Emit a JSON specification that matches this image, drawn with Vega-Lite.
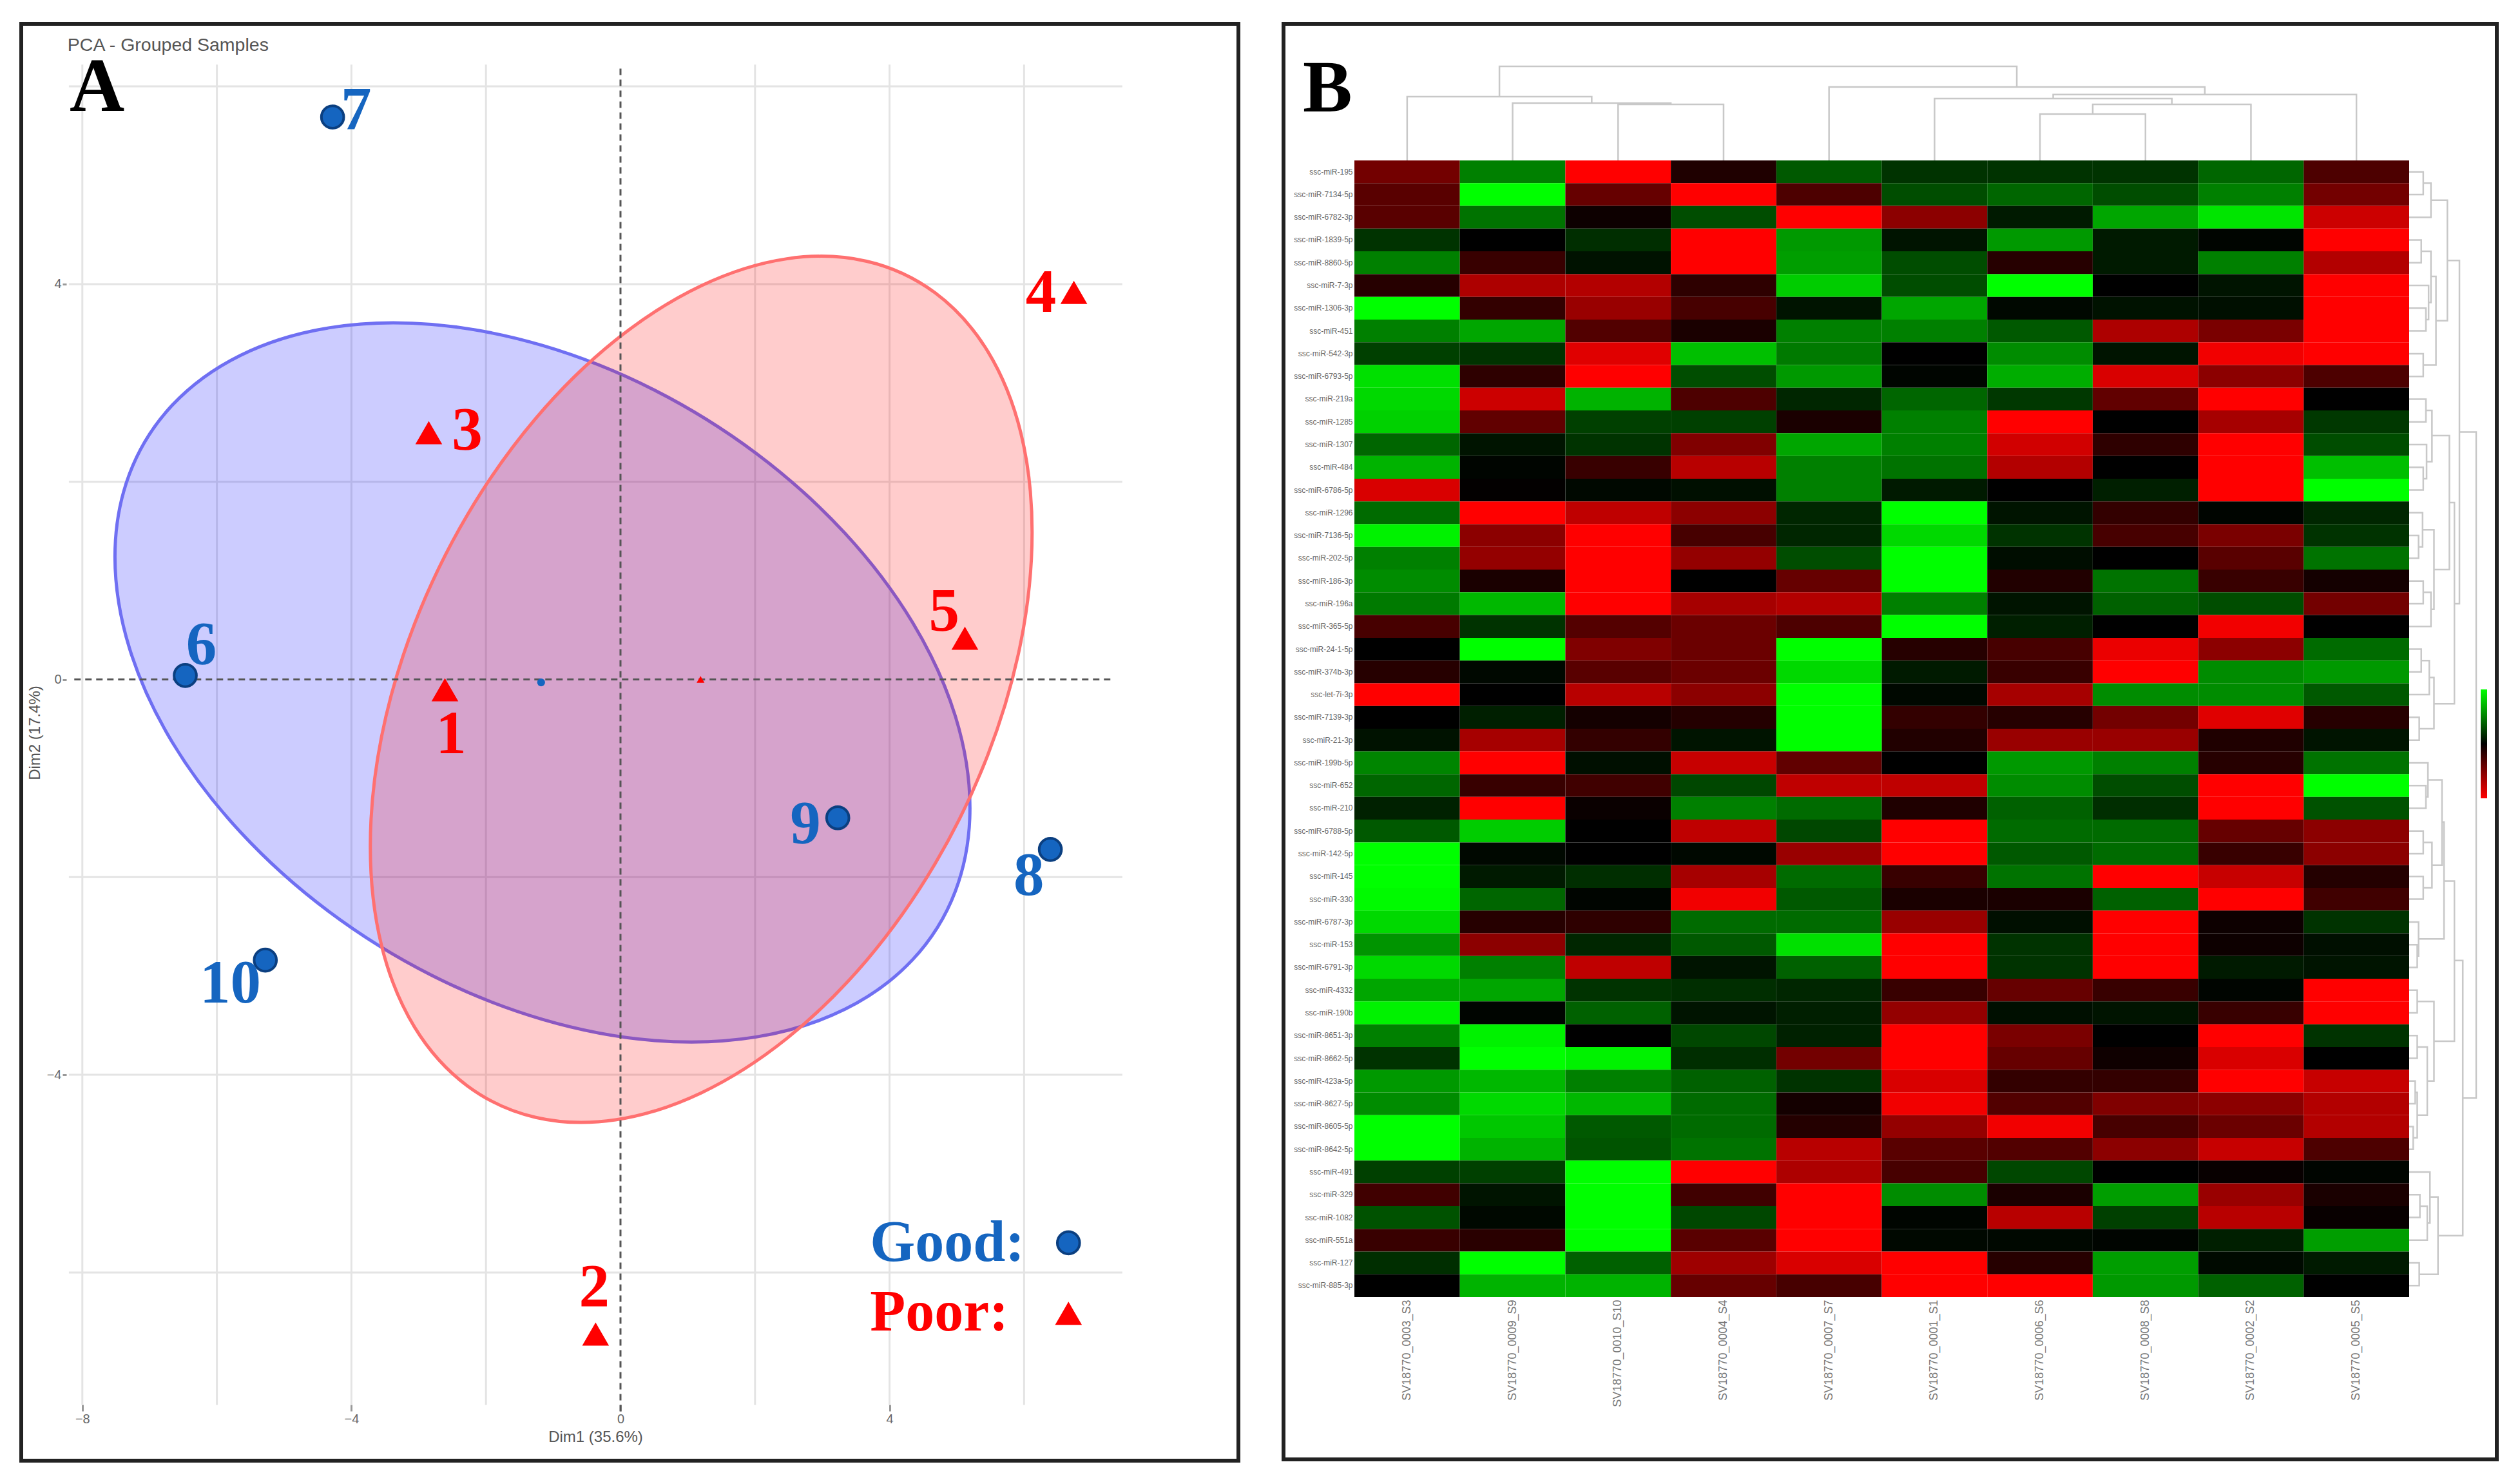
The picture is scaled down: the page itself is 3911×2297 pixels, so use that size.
{"$schema":"https://vega.github.io/schema/vega-lite/v6.json","background":"#ffffff","padding":{"left":30,"top":34,"right":0,"bottom":0},"spacing":64,"config":{"view":{"stroke":"#222222","strokeWidth":6},"font":"Liberation Sans"},
"datasets":{
"gridV":[{"x":-8,"y":6.22,"y2":-7.34},{"x":-6,"y":6.22,"y2":-7.34},{"x":-4,"y":6.22,"y2":-7.34},{"x":-2,"y":6.22,"y2":-7.34},{"x":2,"y":6.22,"y2":-7.34},{"x":4,"y":6.22,"y2":-7.34},{"x":6,"y":6.22,"y2":-7.34}],
"gridH":[{"y":-6,"x":-8.2,"x2":7.46},{"y":-4,"x":-8.2,"x2":7.46},{"y":-2,"x":-8.2,"x2":7.46},{"y":2,"x":-8.2,"x2":7.46},{"y":4,"x":-8.2,"x2":7.46},{"y":6,"x":-8.2,"x2":7.46}],
"ellipseGood":[{"i":0,"x":5.195,"y":-1.3},{"i":1,"x":4.979,"y":-2.14},{"i":2,"x":4.343,"y":-2.835},{"i":3,"x":3.333,"y":-3.338},{"i":4,"x":2.018,"y":-3.617},{"i":5,"x":0.486,"y":-3.652},{"i":6,"x":-1.16,"y":-3.439},{"i":7,"x":-2.806,"y":-2.994},{"i":8,"x":-4.338,"y":-2.347},{"i":9,"x":-5.653,"y":-1.542},{"i":10,"x":-6.663,"y":-0.635},{"i":11,"x":-7.299,"y":0.314},{"i":12,"x":-7.515,"y":1.24},{"i":13,"x":-7.299,"y":2.08},{"i":14,"x":-6.663,"y":2.775},{"i":15,"x":-5.653,"y":3.278},{"i":16,"x":-4.338,"y":3.557},{"i":17,"x":-2.806,"y":3.592},{"i":18,"x":-1.16,"y":3.379},{"i":19,"x":0.486,"y":2.934},{"i":20,"x":2.018,"y":2.287},{"i":21,"x":3.333,"y":1.482},{"i":22,"x":4.343,"y":0.575},{"i":23,"x":4.979,"y":-0.374}],
"ellipsePoor":[{"i":0,"x":6.119,"y":1.49},{"i":1,"x":5.952,"y":0.379},{"i":2,"x":5.46,"y":-0.765},{"i":3,"x":4.678,"y":-1.863},{"i":4,"x":3.66,"y":-2.841},{"i":5,"x":2.474,"y":-3.632},{"i":6,"x":1.2,"y":-4.183},{"i":7,"x":-0.074,"y":-4.456},{"i":8,"x":-1.26,"y":-4.431},{"i":9,"x":-2.278,"y":-4.111},{"i":10,"x":-3.06,"y":-3.519},{"i":11,"x":-3.552,"y":-2.693},{"i":12,"x":-3.719,"y":-1.69},{"i":13,"x":-3.552,"y":-0.579},{"i":14,"x":-3.06,"y":0.565},{"i":15,"x":-2.278,"y":1.663},{"i":16,"x":-1.26,"y":2.641},{"i":17,"x":-0.074,"y":3.432},{"i":18,"x":1.2,"y":3.983},{"i":19,"x":2.474,"y":4.256},{"i":20,"x":3.66,"y":4.231},{"i":21,"x":4.678,"y":3.911},{"i":22,"x":5.46,"y":3.319},{"i":23,"x":5.952,"y":2.493}],
"samples":[{"group":"Good","x":-4.28,"y":5.69},{"group":"Good","x":-6.47,"y":0.04},{"group":"Good","x":3.23,"y":-1.4},{"group":"Good","x":6.39,"y":-1.72},{"group":"Good","x":-5.28,"y":-2.84},{"group":"Poor","x":-2.61,"y":-0.11},{"group":"Poor","x":-0.37,"y":-6.63},{"group":"Poor","x":-2.85,"y":2.49},{"group":"Poor","x":6.74,"y":3.91},{"group":"Poor","x":5.12,"y":0.41},{"group":"Good","x":6.66,"y":-5.7},{"group":"Poor","x":6.66,"y":-6.42}],
"centroids":[{"group":"Good","x":-1.18,"y":-0.03},{"group":"Poor","x":1.19,"y":0}],
"numbers":[{"t":"7","group":"Good","x":-3.93,"y":5.75},{"t":"6","group":"Good","x":-6.23,"y":0.34},{"t":"9","group":"Good","x":2.75,"y":-1.47},{"t":"8","group":"Good","x":6.07,"y":-1.99},{"t":"10","group":"Good","x":-5.8,"y":-3.08},{"t":"1","group":"Poor","x":-2.52,"y":-0.56},{"t":"2","group":"Poor","x":-0.39,"y":-6.16},{"t":"3","group":"Poor","x":-2.28,"y":2.51},{"t":"4","group":"Poor","x":6.25,"y":3.91},{"t":"5","group":"Poor","x":4.81,"y":0.68}],
"keys":[{"t":"Good:","group":"Good","x":3.71,"y":-5.88},{"t":"Poor:","group":"Poor","x":3.71,"y":-6.59}],
"miRs":[{"r":1,"miR":"ssc-miR-195"},{"r":2,"miR":"ssc-miR-7134-5p"},{"r":3,"miR":"ssc-miR-6782-3p"},{"r":4,"miR":"ssc-miR-1839-5p"},{"r":5,"miR":"ssc-miR-8860-5p"},{"r":6,"miR":"ssc-miR-7-3p"},{"r":7,"miR":"ssc-miR-1306-3p"},{"r":8,"miR":"ssc-miR-451"},{"r":9,"miR":"ssc-miR-542-3p"},{"r":10,"miR":"ssc-miR-6793-5p"},{"r":11,"miR":"ssc-miR-219a"},{"r":12,"miR":"ssc-miR-1285"},{"r":13,"miR":"ssc-miR-1307"},{"r":14,"miR":"ssc-miR-484"},{"r":15,"miR":"ssc-miR-6786-5p"},{"r":16,"miR":"ssc-miR-1296"},{"r":17,"miR":"ssc-miR-7136-5p"},{"r":18,"miR":"ssc-miR-202-5p"},{"r":19,"miR":"ssc-miR-186-3p"},{"r":20,"miR":"ssc-miR-196a"},{"r":21,"miR":"ssc-miR-365-5p"},{"r":22,"miR":"ssc-miR-24-1-5p"},{"r":23,"miR":"ssc-miR-374b-3p"},{"r":24,"miR":"ssc-let-7i-3p"},{"r":25,"miR":"ssc-miR-7139-3p"},{"r":26,"miR":"ssc-miR-21-3p"},{"r":27,"miR":"ssc-miR-199b-5p"},{"r":28,"miR":"ssc-miR-652"},{"r":29,"miR":"ssc-miR-210"},{"r":30,"miR":"ssc-miR-6788-5p"},{"r":31,"miR":"ssc-miR-142-5p"},{"r":32,"miR":"ssc-miR-145"},{"r":33,"miR":"ssc-miR-330"},{"r":34,"miR":"ssc-miR-6787-3p"},{"r":35,"miR":"ssc-miR-153"},{"r":36,"miR":"ssc-miR-6791-3p"},{"r":37,"miR":"ssc-miR-4332"},{"r":38,"miR":"ssc-miR-190b"},{"r":39,"miR":"ssc-miR-8651-3p"},{"r":40,"miR":"ssc-miR-8662-5p"},{"r":41,"miR":"ssc-miR-423a-5p"},{"r":42,"miR":"ssc-miR-8627-5p"},{"r":43,"miR":"ssc-miR-8605-5p"},{"r":44,"miR":"ssc-miR-8642-5p"},{"r":45,"miR":"ssc-miR-491"},{"r":46,"miR":"ssc-miR-329"},{"r":47,"miR":"ssc-miR-1082"},{"r":48,"miR":"ssc-miR-551a"},{"r":49,"miR":"ssc-miR-127"},{"r":50,"miR":"ssc-miR-885-3p"}],
"sampleNames":[{"c":1,"sample":"SV18770_0003_S3"},{"c":2,"sample":"SV18770_0009_S9"},{"c":3,"sample":"SV18770_0010_S10"},{"c":4,"sample":"SV18770_0004_S4"},{"c":5,"sample":"SV18770_0007_S7"},{"c":6,"sample":"SV18770_0001_S1"},{"c":7,"sample":"SV18770_0006_S6"},{"c":8,"sample":"SV18770_0008_S8"},{"c":9,"sample":"SV18770_0002_S2"},{"c":10,"sample":"SV18770_0005_S5"}],
"cells":[
{"r":1,"c":1,"v":-0.45},{"r":1,"c":2,"v":0.5},{"r":1,"c":3,"v":-1},{"r":1,"c":4,"v":-0.12},{"r":1,"c":5,"v":0.35},{"r":1,"c":6,"v":0.2},{"r":1,"c":7,"v":0.2},{"r":1,"c":8,"v":0.2},{"r":1,"c":9,"v":0.4},{"r":1,"c":10,"v":-0.3},
{"r":2,"c":1,"v":-0.35},{"r":2,"c":2,"v":1},{"r":2,"c":3,"v":-0.4},{"r":2,"c":4,"v":-1},{"r":2,"c":5,"v":-0.3},{"r":2,"c":6,"v":0.3},{"r":2,"c":7,"v":0.4},{"r":2,"c":8,"v":0.3},{"r":2,"c":9,"v":0.5},{"r":2,"c":10,"v":-0.45},
{"r":3,"c":1,"v":-0.35},{"r":3,"c":2,"v":0.45},{"r":3,"c":3,"v":-0.05},{"r":3,"c":4,"v":0.3},{"r":3,"c":5,"v":-1},{"r":3,"c":6,"v":-0.55},{"r":3,"c":7,"v":0.1},{"r":3,"c":8,"v":0.65},{"r":3,"c":9,"v":0.9},{"r":3,"c":10,"v":-0.8},
{"r":4,"c":1,"v":0.2},{"r":4,"c":2,"v":0},{"r":4,"c":3,"v":0.18},{"r":4,"c":4,"v":-1},{"r":4,"c":5,"v":0.6},{"r":4,"c":6,"v":0.08},{"r":4,"c":7,"v":0.6},{"r":4,"c":8,"v":0.1},{"r":4,"c":9,"v":0.02},{"r":4,"c":10,"v":-1},
{"r":5,"c":1,"v":0.5},{"r":5,"c":2,"v":-0.22},{"r":5,"c":3,"v":0.07},{"r":5,"c":4,"v":-1},{"r":5,"c":5,"v":0.62},{"r":5,"c":6,"v":0.3},{"r":5,"c":7,"v":-0.15},{"r":5,"c":8,"v":0.1},{"r":5,"c":9,"v":0.5},{"r":5,"c":10,"v":-0.7},
{"r":6,"c":1,"v":-0.15},{"r":6,"c":2,"v":-0.68},{"r":6,"c":3,"v":-0.7},{"r":6,"c":4,"v":-0.18},{"r":6,"c":5,"v":0.8},{"r":6,"c":6,"v":0.3},{"r":6,"c":7,"v":1},{"r":6,"c":8,"v":0},{"r":6,"c":9,"v":0.08},{"r":6,"c":10,"v":-1},
{"r":7,"c":1,"v":1},{"r":7,"c":2,"v":-0.2},{"r":7,"c":3,"v":-0.6},{"r":7,"c":4,"v":-0.28},{"r":7,"c":5,"v":0.08},{"r":7,"c":6,"v":0.65},{"r":7,"c":7,"v":0.03},{"r":7,"c":8,"v":0.07},{"r":7,"c":9,"v":0.06},{"r":7,"c":10,"v":-1},
{"r":8,"c":1,"v":0.5},{"r":8,"c":2,"v":0.65},{"r":8,"c":3,"v":-0.32},{"r":8,"c":4,"v":-0.1},{"r":8,"c":5,"v":0.5},{"r":8,"c":6,"v":0.5},{"r":8,"c":7,"v":0.35},{"r":8,"c":8,"v":-0.68},{"r":8,"c":9,"v":-0.48},{"r":8,"c":10,"v":-1},
{"r":9,"c":1,"v":0.25},{"r":9,"c":2,"v":0.2},{"r":9,"c":3,"v":-0.88},{"r":9,"c":4,"v":0.75},{"r":9,"c":5,"v":0.48},{"r":9,"c":6,"v":0},{"r":9,"c":7,"v":0.55},{"r":9,"c":8,"v":0.08},{"r":9,"c":9,"v":-0.95},{"r":9,"c":10,"v":-1},
{"r":10,"c":1,"v":0.88},{"r":10,"c":2,"v":-0.18},{"r":10,"c":3,"v":-1},{"r":10,"c":4,"v":0.3},{"r":10,"c":5,"v":0.6},{"r":10,"c":6,"v":0.02},{"r":10,"c":7,"v":0.68},{"r":10,"c":8,"v":-0.85},{"r":10,"c":9,"v":-0.55},{"r":10,"c":10,"v":-0.3},
{"r":11,"c":1,"v":0.85},{"r":11,"c":2,"v":-0.8},{"r":11,"c":3,"v":0.7},{"r":11,"c":4,"v":-0.3},{"r":11,"c":5,"v":0.15},{"r":11,"c":6,"v":0.4},{"r":11,"c":7,"v":0.22},{"r":11,"c":8,"v":-0.38},{"r":11,"c":9,"v":-1},{"r":11,"c":10,"v":0},
{"r":12,"c":1,"v":0.82},{"r":12,"c":2,"v":-0.38},{"r":12,"c":3,"v":0.25},{"r":12,"c":4,"v":0.25},{"r":12,"c":5,"v":-0.1},{"r":12,"c":6,"v":0.5},{"r":12,"c":7,"v":-1},{"r":12,"c":8,"v":0},{"r":12,"c":9,"v":-0.65},{"r":12,"c":10,"v":0.22},
{"r":13,"c":1,"v":0.4},{"r":13,"c":2,"v":0.08},{"r":13,"c":3,"v":0.2},{"r":13,"c":4,"v":-0.5},{"r":13,"c":5,"v":0.65},{"r":13,"c":6,"v":0.5},{"r":13,"c":7,"v":-0.82},{"r":13,"c":8,"v":-0.18},{"r":13,"c":9,"v":-1},{"r":13,"c":10,"v":0.3},
{"r":14,"c":1,"v":0.7},{"r":14,"c":2,"v":0.02},{"r":14,"c":3,"v":-0.22},{"r":14,"c":4,"v":-0.72},{"r":14,"c":5,"v":0.5},{"r":14,"c":6,"v":0.45},{"r":14,"c":7,"v":-0.7},{"r":14,"c":8,"v":0},{"r":14,"c":9,"v":-1},{"r":14,"c":10,"v":0.75},
{"r":15,"c":1,"v":-0.85},{"r":15,"c":2,"v":-0.01},{"r":15,"c":3,"v":0.03},{"r":15,"c":4,"v":0.06},{"r":15,"c":5,"v":0.5},{"r":15,"c":6,"v":0.1},{"r":15,"c":7,"v":0},{"r":15,"c":8,"v":0.12},{"r":15,"c":9,"v":-1},{"r":15,"c":10,"v":1},
{"r":16,"c":1,"v":0.42},{"r":16,"c":2,"v":-1},{"r":16,"c":3,"v":-0.75},{"r":16,"c":4,"v":-0.55},{"r":16,"c":5,"v":0.15},{"r":16,"c":6,"v":1},{"r":16,"c":7,"v":0.08},{"r":16,"c":8,"v":-0.2},{"r":16,"c":9,"v":0.02},{"r":16,"c":10,"v":0.15},
{"r":17,"c":1,"v":0.95},{"r":17,"c":2,"v":-0.55},{"r":17,"c":3,"v":-1},{"r":17,"c":4,"v":-0.28},{"r":17,"c":5,"v":0.15},{"r":17,"c":6,"v":0.85},{"r":17,"c":7,"v":0.2},{"r":17,"c":8,"v":-0.28},{"r":17,"c":9,"v":-0.48},{"r":17,"c":10,"v":0.2},
{"r":18,"c":1,"v":0.5},{"r":18,"c":2,"v":-0.58},{"r":18,"c":3,"v":-1},{"r":18,"c":4,"v":-0.58},{"r":18,"c":5,"v":0.3},{"r":18,"c":6,"v":1},{"r":18,"c":7,"v":0.05},{"r":18,"c":8,"v":0},{"r":18,"c":9,"v":-0.35},{"r":18,"c":10,"v":0.45},
{"r":19,"c":1,"v":0.55},{"r":19,"c":2,"v":-0.1},{"r":19,"c":3,"v":-1},{"r":19,"c":4,"v":0},{"r":19,"c":5,"v":-0.4},{"r":19,"c":6,"v":1},{"r":19,"c":7,"v":-0.13},{"r":19,"c":8,"v":0.45},{"r":19,"c":9,"v":-0.22},{"r":19,"c":10,"v":-0.08},
{"r":20,"c":1,"v":0.48},{"r":20,"c":2,"v":0.72},{"r":20,"c":3,"v":-1},{"r":20,"c":4,"v":-0.65},{"r":20,"c":5,"v":-0.7},{"r":20,"c":6,"v":0.5},{"r":20,"c":7,"v":0.08},{"r":20,"c":8,"v":0.38},{"r":20,"c":9,"v":0.3},{"r":20,"c":10,"v":-0.45},
{"r":21,"c":1,"v":-0.28},{"r":21,"c":2,"v":0.2},{"r":21,"c":3,"v":-0.33},{"r":21,"c":4,"v":-0.42},{"r":21,"c":5,"v":-0.3},{"r":21,"c":6,"v":1},{"r":21,"c":7,"v":0.12},{"r":21,"c":8,"v":0},{"r":21,"c":9,"v":-0.95},{"r":21,"c":10,"v":0},
{"r":22,"c":1,"v":0},{"r":22,"c":2,"v":1},{"r":22,"c":3,"v":-0.5},{"r":22,"c":4,"v":-0.42},{"r":22,"c":5,"v":1},{"r":22,"c":6,"v":-0.15},{"r":22,"c":7,"v":-0.28},{"r":22,"c":8,"v":-0.92},{"r":22,"c":9,"v":-0.55},{"r":22,"c":10,"v":0.42},
{"r":23,"c":1,"v":-0.15},{"r":23,"c":2,"v":0.03},{"r":23,"c":3,"v":-0.35},{"r":23,"c":4,"v":-0.42},{"r":23,"c":5,"v":0.85},{"r":23,"c":6,"v":0.1},{"r":23,"c":7,"v":-0.22},{"r":23,"c":8,"v":-1},{"r":23,"c":9,"v":0.55},{"r":23,"c":10,"v":0.6},
{"r":24,"c":1,"v":-1},{"r":24,"c":2,"v":0},{"r":24,"c":3,"v":-0.72},{"r":24,"c":4,"v":-0.55},{"r":24,"c":5,"v":1},{"r":24,"c":6,"v":0.03},{"r":24,"c":7,"v":-0.65},{"r":24,"c":8,"v":0.55},{"r":24,"c":9,"v":0.55},{"r":24,"c":10,"v":0.35},
{"r":25,"c":1,"v":0},{"r":25,"c":2,"v":0.12},{"r":25,"c":3,"v":-0.08},{"r":25,"c":4,"v":-0.14},{"r":25,"c":5,"v":1},{"r":25,"c":6,"v":-0.2},{"r":25,"c":7,"v":-0.15},{"r":25,"c":8,"v":-0.45},{"r":25,"c":9,"v":-0.88},{"r":25,"c":10,"v":-0.15},
{"r":26,"c":1,"v":0.07},{"r":26,"c":2,"v":-0.65},{"r":26,"c":3,"v":-0.2},{"r":26,"c":4,"v":0.08},{"r":26,"c":5,"v":1},{"r":26,"c":6,"v":-0.13},{"r":26,"c":7,"v":-0.6},{"r":26,"c":8,"v":-0.6},{"r":26,"c":9,"v":-0.12},{"r":26,"c":10,"v":0.08},
{"r":27,"c":1,"v":0.52},{"r":27,"c":2,"v":-1},{"r":27,"c":3,"v":0.06},{"r":27,"c":4,"v":-0.78},{"r":27,"c":5,"v":-0.38},{"r":27,"c":6,"v":0},{"r":27,"c":7,"v":0.6},{"r":27,"c":8,"v":0.5},{"r":27,"c":9,"v":-0.15},{"r":27,"c":10,"v":0.45},
{"r":28,"c":1,"v":0.4},{"r":28,"c":2,"v":-0.22},{"r":28,"c":3,"v":-0.25},{"r":28,"c":4,"v":0.28},{"r":28,"c":5,"v":-0.75},{"r":28,"c":6,"v":-0.75},{"r":28,"c":7,"v":0.55},{"r":28,"c":8,"v":0.3},{"r":28,"c":9,"v":-1},{"r":28,"c":10,"v":1},
{"r":29,"c":1,"v":0.13},{"r":29,"c":2,"v":-1},{"r":29,"c":3,"v":-0.04},{"r":29,"c":4,"v":0.5},{"r":29,"c":5,"v":0.42},{"r":29,"c":6,"v":-0.12},{"r":29,"c":7,"v":0.38},{"r":29,"c":8,"v":0.18},{"r":29,"c":9,"v":-1},{"r":29,"c":10,"v":0.32},
{"r":30,"c":1,"v":0.35},{"r":30,"c":2,"v":0.8},{"r":30,"c":3,"v":0},{"r":30,"c":4,"v":-0.75},{"r":30,"c":5,"v":0.28},{"r":30,"c":6,"v":-1},{"r":30,"c":7,"v":0.42},{"r":30,"c":8,"v":0.42},{"r":30,"c":9,"v":-0.4},{"r":30,"c":10,"v":-0.55},
{"r":31,"c":1,"v":1},{"r":31,"c":2,"v":0.03},{"r":31,"c":3,"v":0},{"r":31,"c":4,"v":0.03},{"r":31,"c":5,"v":-0.6},{"r":31,"c":6,"v":-1},{"r":31,"c":7,"v":0.35},{"r":31,"c":8,"v":0.42},{"r":31,"c":9,"v":-0.22},{"r":31,"c":10,"v":-0.55},
{"r":32,"c":1,"v":1},{"r":32,"c":2,"v":0.1},{"r":32,"c":3,"v":0.18},{"r":32,"c":4,"v":-0.65},{"r":32,"c":5,"v":0.42},{"r":32,"c":6,"v":-0.22},{"r":32,"c":7,"v":0.45},{"r":32,"c":8,"v":-1},{"r":32,"c":9,"v":-0.78},{"r":32,"c":10,"v":-0.14},
{"r":33,"c":1,"v":0.98},{"r":33,"c":2,"v":0.4},{"r":33,"c":3,"v":0.02},{"r":33,"c":4,"v":-0.95},{"r":33,"c":5,"v":0.35},{"r":33,"c":6,"v":-0.1},{"r":33,"c":7,"v":-0.1},{"r":33,"c":8,"v":0.38},{"r":33,"c":9,"v":-1},{"r":33,"c":10,"v":-0.25},
{"r":34,"c":1,"v":0.85},{"r":34,"c":2,"v":-0.15},{"r":34,"c":3,"v":-0.18},{"r":34,"c":4,"v":0.42},{"r":34,"c":5,"v":0.42},{"r":34,"c":6,"v":-0.6},{"r":34,"c":7,"v":0.06},{"r":34,"c":8,"v":-1},{"r":34,"c":9,"v":-0.05},{"r":34,"c":10,"v":0.2},
{"r":35,"c":1,"v":0.58},{"r":35,"c":2,"v":-0.55},{"r":35,"c":3,"v":0.15},{"r":35,"c":4,"v":0.35},{"r":35,"c":5,"v":0.88},{"r":35,"c":6,"v":-1},{"r":35,"c":7,"v":0.2},{"r":35,"c":8,"v":-1},{"r":35,"c":9,"v":-0.05},{"r":35,"c":10,"v":0.06},
{"r":36,"c":1,"v":0.85},{"r":36,"c":2,"v":0.5},{"r":36,"c":3,"v":-0.75},{"r":36,"c":4,"v":0.08},{"r":36,"c":5,"v":0.38},{"r":36,"c":6,"v":-1},{"r":36,"c":7,"v":0.2},{"r":36,"c":8,"v":-1},{"r":36,"c":9,"v":0.1},{"r":36,"c":10,"v":0.08},
{"r":37,"c":1,"v":0.65},{"r":37,"c":2,"v":0.65},{"r":37,"c":3,"v":0.2},{"r":37,"c":4,"v":0.18},{"r":37,"c":5,"v":0.15},{"r":37,"c":6,"v":-0.22},{"r":37,"c":7,"v":-0.4},{"r":37,"c":8,"v":-0.22},{"r":37,"c":9,"v":0.02},{"r":37,"c":10,"v":-1},
{"r":38,"c":1,"v":0.95},{"r":38,"c":2,"v":0.02},{"r":38,"c":3,"v":0.38},{"r":38,"c":4,"v":0.08},{"r":38,"c":5,"v":0.12},{"r":38,"c":6,"v":-0.58},{"r":38,"c":7,"v":0.06},{"r":38,"c":8,"v":0.08},{"r":38,"c":9,"v":-0.22},{"r":38,"c":10,"v":-1},
{"r":39,"c":1,"v":0.5},{"r":39,"c":2,"v":0.95},{"r":39,"c":3,"v":0},{"r":39,"c":4,"v":0.28},{"r":39,"c":5,"v":0.13},{"r":39,"c":6,"v":-1},{"r":39,"c":7,"v":-0.48},{"r":39,"c":8,"v":0},{"r":39,"c":9,"v":-1},{"r":39,"c":10,"v":0.2},
{"r":40,"c":1,"v":0.2},{"r":40,"c":2,"v":1},{"r":40,"c":3,"v":0.95},{"r":40,"c":4,"v":0.18},{"r":40,"c":5,"v":-0.45},{"r":40,"c":6,"v":-1},{"r":40,"c":7,"v":-0.4},{"r":40,"c":8,"v":-0.06},{"r":40,"c":9,"v":-0.85},{"r":40,"c":10,"v":0},
{"r":41,"c":1,"v":0.6},{"r":41,"c":2,"v":0.72},{"r":41,"c":3,"v":0.5},{"r":41,"c":4,"v":0.38},{"r":41,"c":5,"v":0.2},{"r":41,"c":6,"v":-0.85},{"r":41,"c":7,"v":-0.2},{"r":41,"c":8,"v":-0.2},{"r":41,"c":9,"v":-1},{"r":41,"c":10,"v":-0.78},
{"r":42,"c":1,"v":0.55},{"r":42,"c":2,"v":0.85},{"r":42,"c":3,"v":0.72},{"r":42,"c":4,"v":0.42},{"r":42,"c":5,"v":-0.08},{"r":42,"c":6,"v":-0.95},{"r":42,"c":7,"v":-0.32},{"r":42,"c":8,"v":-0.5},{"r":42,"c":9,"v":-0.55},{"r":42,"c":10,"v":-0.7},
{"r":43,"c":1,"v":1},{"r":43,"c":2,"v":0.78},{"r":43,"c":3,"v":0.35},{"r":43,"c":4,"v":0.42},{"r":43,"c":5,"v":-0.14},{"r":43,"c":6,"v":-0.58},{"r":43,"c":7,"v":-0.95},{"r":43,"c":8,"v":-0.28},{"r":43,"c":9,"v":-0.42},{"r":43,"c":10,"v":-0.7},
{"r":44,"c":1,"v":1},{"r":44,"c":2,"v":0.7},{"r":44,"c":3,"v":0.33},{"r":44,"c":4,"v":0.45},{"r":44,"c":5,"v":-0.72},{"r":44,"c":6,"v":-0.35},{"r":44,"c":7,"v":-0.32},{"r":44,"c":8,"v":-0.55},{"r":44,"c":9,"v":-0.78},{"r":44,"c":10,"v":-0.3},
{"r":45,"c":1,"v":0.25},{"r":45,"c":2,"v":0.25},{"r":45,"c":3,"v":1},{"r":45,"c":4,"v":-1},{"r":45,"c":5,"v":-0.68},{"r":45,"c":6,"v":-0.28},{"r":45,"c":7,"v":0.28},{"r":45,"c":8,"v":0},{"r":45,"c":9,"v":-0.03},{"r":45,"c":10,"v":0.02},
{"r":46,"c":1,"v":-0.25},{"r":46,"c":2,"v":0.08},{"r":46,"c":3,"v":1},{"r":46,"c":4,"v":-0.25},{"r":46,"c":5,"v":-1},{"r":46,"c":6,"v":0.55},{"r":46,"c":7,"v":-0.1},{"r":46,"c":8,"v":0.62},{"r":46,"c":9,"v":-0.6},{"r":46,"c":10,"v":-0.1},
{"r":47,"c":1,"v":0.32},{"r":47,"c":2,"v":0.03},{"r":47,"c":3,"v":1},{"r":47,"c":4,"v":0.28},{"r":47,"c":5,"v":-1},{"r":47,"c":6,"v":0.02},{"r":47,"c":7,"v":-0.72},{"r":47,"c":8,"v":0.25},{"r":47,"c":9,"v":-0.72},{"r":47,"c":10,"v":-0.03},
{"r":48,"c":1,"v":-0.22},{"r":48,"c":2,"v":-0.16},{"r":48,"c":3,"v":1},{"r":48,"c":4,"v":-0.35},{"r":48,"c":5,"v":-1},{"r":48,"c":6,"v":0.03},{"r":48,"c":7,"v":0.03},{"r":48,"c":8,"v":0.02},{"r":48,"c":9,"v":0.12},{"r":48,"c":10,"v":0.62},
{"r":49,"c":1,"v":0.18},{"r":49,"c":2,"v":1},{"r":49,"c":3,"v":0.38},{"r":49,"c":4,"v":-0.62},{"r":49,"c":5,"v":-0.85},{"r":49,"c":6,"v":-1},{"r":49,"c":7,"v":-0.15},{"r":49,"c":8,"v":0.62},{"r":49,"c":9,"v":0.04},{"r":49,"c":10,"v":0.1},
{"r":50,"c":1,"v":0},{"r":50,"c":2,"v":0.7},{"r":50,"c":3,"v":0.7},{"r":50,"c":4,"v":-0.4},{"r":50,"c":5,"v":-0.28},{"r":50,"c":6,"v":-1},{"r":50,"c":7,"v":-1},{"r":50,"c":8,"v":0.6},{"r":50,"c":9,"v":0.38},{"r":50,"c":10,"v":0}],
"topTree":[
{"n":1,"i":0,"p":3,"h":0},{"n":1,"i":1,"p":3,"h":0.596},{"n":1,"i":2,"p":4,"h":0.596},{"n":1,"i":3,"p":4,"h":0},
{"n":2,"i":0,"p":2,"h":0},{"n":2,"i":1,"p":2,"h":0.61},{"n":2,"i":2,"p":3.5,"h":0.61},{"n":2,"i":3,"p":3.5,"h":0.596},
{"n":3,"i":0,"p":1,"h":0},{"n":3,"i":1,"p":1,"h":0.678},{"n":3,"i":2,"p":2.75,"h":0.678},{"n":3,"i":3,"p":2.75,"h":0.61},
{"n":4,"i":0,"p":7,"h":0},{"n":4,"i":1,"p":7,"h":0.493},{"n":4,"i":2,"p":8,"h":0.493},{"n":4,"i":3,"p":8,"h":0},
{"n":5,"i":0,"p":7.5,"h":0.493},{"n":5,"i":1,"p":7.5,"h":0.596},{"n":5,"i":2,"p":9,"h":0.596},{"n":5,"i":3,"p":9,"h":0},
{"n":6,"i":0,"p":6,"h":0},{"n":6,"i":1,"p":6,"h":0.658},{"n":6,"i":2,"p":8.25,"h":0.658},{"n":6,"i":3,"p":8.25,"h":0.596},
{"n":7,"i":0,"p":7.125,"h":0.658},{"n":7,"i":1,"p":7.125,"h":0.7},{"n":7,"i":2,"p":10,"h":0.7},{"n":7,"i":3,"p":10,"h":0},
{"n":8,"i":0,"p":5,"h":0},{"n":8,"i":1,"p":5,"h":0.78},{"n":8,"i":2,"p":8.5625,"h":0.78},{"n":8,"i":3,"p":8.5625,"h":0.7},
{"n":9,"i":0,"p":1.875,"h":0.678},{"n":9,"i":1,"p":1.875,"h":1},{"n":9,"i":2,"p":6.78,"h":1},{"n":9,"i":3,"p":6.78,"h":0.78}],
"sideTree":[
{"n":1,"i":0,"d":0,"r":1},{"n":1,"i":1,"d":0.21,"r":1},{"n":1,"i":2,"d":0.21,"r":2},{"n":1,"i":3,"d":0,"r":2},
{"n":2,"i":0,"d":0.21,"r":1.5},{"n":2,"i":1,"d":0.325,"r":1.5},{"n":2,"i":2,"d":0.325,"r":3},{"n":2,"i":3,"d":0,"r":3},
{"n":3,"i":0,"d":0,"r":4},{"n":3,"i":1,"d":0.18,"r":4},{"n":3,"i":2,"d":0.18,"r":5},{"n":3,"i":3,"d":0,"r":5},
{"n":4,"i":0,"d":0,"r":7},{"n":4,"i":1,"d":0.25,"r":7},{"n":4,"i":2,"d":0.25,"r":8},{"n":4,"i":3,"d":0,"r":8},
{"n":5,"i":0,"d":0,"r":6},{"n":5,"i":1,"d":0.29,"r":6},{"n":5,"i":2,"d":0.29,"r":7.5},{"n":5,"i":3,"d":0.25,"r":7.5},
{"n":6,"i":0,"d":0.18,"r":4.5},{"n":6,"i":1,"d":0.325,"r":4.5},{"n":6,"i":2,"d":0.325,"r":6.75},{"n":6,"i":3,"d":0.29,"r":6.75},
{"n":7,"i":0,"d":0,"r":9},{"n":7,"i":1,"d":0.21,"r":9},{"n":7,"i":2,"d":0.21,"r":10},{"n":7,"i":3,"d":0,"r":10},
{"n":8,"i":0,"d":0.325,"r":5.6},{"n":8,"i":1,"d":0.4,"r":5.6},{"n":8,"i":2,"d":0.4,"r":9.5},{"n":8,"i":3,"d":0.21,"r":9.5},
{"n":9,"i":0,"d":0.325,"r":2.25},{"n":9,"i":1,"d":0.57,"r":2.25},{"n":9,"i":2,"d":0.57,"r":7.55},{"n":9,"i":3,"d":0.4,"r":7.55},
{"n":10,"i":0,"d":0,"r":11},{"n":10,"i":1,"d":0.25,"r":11},{"n":10,"i":2,"d":0.25,"r":12},{"n":10,"i":3,"d":0,"r":12},
{"n":11,"i":0,"d":0,"r":14},{"n":11,"i":1,"d":0.21,"r":14},{"n":11,"i":2,"d":0.21,"r":15},{"n":11,"i":3,"d":0,"r":15},
{"n":12,"i":0,"d":0,"r":13},{"n":12,"i":1,"d":0.26,"r":13},{"n":12,"i":2,"d":0.26,"r":14.5},{"n":12,"i":3,"d":0.21,"r":14.5},
{"n":13,"i":0,"d":0.25,"r":11.5},{"n":13,"i":1,"d":0.34,"r":11.5},{"n":13,"i":2,"d":0.34,"r":13.75},{"n":13,"i":3,"d":0.26,"r":13.75},
{"n":14,"i":0,"d":0,"r":17},{"n":14,"i":1,"d":0.14,"r":17},{"n":14,"i":2,"d":0.14,"r":18},{"n":14,"i":3,"d":0,"r":18},
{"n":15,"i":0,"d":0,"r":16},{"n":15,"i":1,"d":0.2,"r":16},{"n":15,"i":2,"d":0.2,"r":17.5},{"n":15,"i":3,"d":0.14,"r":17.5},
{"n":16,"i":0,"d":0,"r":19},{"n":16,"i":1,"d":0.21,"r":19},{"n":16,"i":2,"d":0.21,"r":20},{"n":16,"i":3,"d":0,"r":20},
{"n":17,"i":0,"d":0.21,"r":19.5},{"n":17,"i":1,"d":0.325,"r":19.5},{"n":17,"i":2,"d":0.325,"r":21},{"n":17,"i":3,"d":0,"r":21},
{"n":18,"i":0,"d":0.2,"r":16.75},{"n":18,"i":1,"d":0.37,"r":16.75},{"n":18,"i":2,"d":0.37,"r":20.25},{"n":18,"i":3,"d":0.325,"r":20.25},
{"n":19,"i":0,"d":0.34,"r":12.6},{"n":19,"i":1,"d":0.6,"r":12.6},{"n":19,"i":2,"d":0.6,"r":18.5},{"n":19,"i":3,"d":0.37,"r":18.5},
{"n":20,"i":0,"d":0,"r":22},{"n":20,"i":1,"d":0.18,"r":22},{"n":20,"i":2,"d":0.18,"r":23},{"n":20,"i":3,"d":0,"r":23},
{"n":21,"i":0,"d":0.18,"r":22.5},{"n":21,"i":1,"d":0.3,"r":22.5},{"n":21,"i":2,"d":0.3,"r":24},{"n":21,"i":3,"d":0,"r":24},
{"n":22,"i":0,"d":0,"r":25},{"n":22,"i":1,"d":0.15,"r":25},{"n":22,"i":2,"d":0.15,"r":26},{"n":22,"i":3,"d":0,"r":26},
{"n":23,"i":0,"d":0.3,"r":23.25},{"n":23,"i":1,"d":0.37,"r":23.25},{"n":23,"i":2,"d":0.37,"r":25.5},{"n":23,"i":3,"d":0.15,"r":25.5},
{"n":24,"i":0,"d":0.6,"r":15.55},{"n":24,"i":1,"d":0.675,"r":15.55},{"n":24,"i":2,"d":0.675,"r":24.4},{"n":24,"i":3,"d":0.37,"r":24.4},
{"n":25,"i":0,"d":0.57,"r":4.9},{"n":25,"i":1,"d":0.75,"r":4.9},{"n":25,"i":2,"d":0.75,"r":20},{"n":25,"i":3,"d":0.675,"r":20},
{"n":26,"i":0,"d":0,"r":28},{"n":26,"i":1,"d":0.25,"r":28},{"n":26,"i":2,"d":0.25,"r":29},{"n":26,"i":3,"d":0,"r":29},
{"n":27,"i":0,"d":0,"r":27},{"n":27,"i":1,"d":0.28,"r":27},{"n":27,"i":2,"d":0.28,"r":28.5},{"n":27,"i":3,"d":0.25,"r":28.5},
{"n":28,"i":0,"d":0,"r":30},{"n":28,"i":1,"d":0.21,"r":30},{"n":28,"i":2,"d":0.21,"r":31},{"n":28,"i":3,"d":0,"r":31},
{"n":29,"i":0,"d":0,"r":32},{"n":29,"i":1,"d":0.21,"r":32},{"n":29,"i":2,"d":0.21,"r":33},{"n":29,"i":3,"d":0,"r":33},
{"n":30,"i":0,"d":0.21,"r":30.5},{"n":30,"i":1,"d":0.34,"r":30.5},{"n":30,"i":2,"d":0.34,"r":32.5},{"n":30,"i":3,"d":0.21,"r":32.5},
{"n":31,"i":0,"d":0.28,"r":27.75},{"n":31,"i":1,"d":0.49,"r":27.75},{"n":31,"i":2,"d":0.49,"r":31.5},{"n":31,"i":3,"d":0.34,"r":31.5},
{"n":32,"i":0,"d":0,"r":35},{"n":32,"i":1,"d":0.12,"r":35},{"n":32,"i":2,"d":0.12,"r":36},{"n":32,"i":3,"d":0,"r":36},
{"n":33,"i":0,"d":0,"r":34},{"n":33,"i":1,"d":0.14,"r":34},{"n":33,"i":2,"d":0.14,"r":35.5},{"n":33,"i":3,"d":0.12,"r":35.5},
{"n":34,"i":0,"d":0.49,"r":29.6},{"n":34,"i":1,"d":0.52,"r":29.6},{"n":34,"i":2,"d":0.52,"r":34.75},{"n":34,"i":3,"d":0.14,"r":34.75},
{"n":35,"i":0,"d":0,"r":37},{"n":35,"i":1,"d":0.12,"r":37},{"n":35,"i":2,"d":0.12,"r":38},{"n":35,"i":3,"d":0,"r":38},
{"n":36,"i":0,"d":0,"r":39},{"n":36,"i":1,"d":0.12,"r":39},{"n":36,"i":2,"d":0.12,"r":40},{"n":36,"i":3,"d":0,"r":40},
{"n":37,"i":0,"d":0,"r":41},{"n":37,"i":1,"d":0.09,"r":41},{"n":37,"i":2,"d":0.09,"r":42},{"n":37,"i":3,"d":0,"r":42},
{"n":38,"i":0,"d":0,"r":43},{"n":38,"i":1,"d":0.06,"r":43},{"n":38,"i":2,"d":0.06,"r":44},{"n":38,"i":3,"d":0,"r":44},
{"n":39,"i":0,"d":0.09,"r":41.5},{"n":39,"i":1,"d":0.12,"r":41.5},{"n":39,"i":2,"d":0.12,"r":43.5},{"n":39,"i":3,"d":0.06,"r":43.5},
{"n":40,"i":0,"d":0.12,"r":39.5},{"n":40,"i":1,"d":0.27,"r":39.5},{"n":40,"i":2,"d":0.27,"r":42.5},{"n":40,"i":3,"d":0.12,"r":42.5},
{"n":41,"i":0,"d":0.12,"r":37.5},{"n":41,"i":1,"d":0.37,"r":37.5},{"n":41,"i":2,"d":0.37,"r":41},{"n":41,"i":3,"d":0.27,"r":41},
{"n":42,"i":0,"d":0.52,"r":32.2},{"n":42,"i":1,"d":0.675,"r":32.2},{"n":42,"i":2,"d":0.675,"r":39.25},{"n":42,"i":3,"d":0.37,"r":39.25},
{"n":43,"i":0,"d":0,"r":46},{"n":43,"i":1,"d":0.16,"r":46},{"n":43,"i":2,"d":0.16,"r":47},{"n":43,"i":3,"d":0,"r":47},
{"n":44,"i":0,"d":0.16,"r":46.5},{"n":44,"i":1,"d":0.27,"r":46.5},{"n":44,"i":2,"d":0.27,"r":48},{"n":44,"i":3,"d":0,"r":48},
{"n":45,"i":0,"d":0,"r":45},{"n":45,"i":1,"d":0.31,"r":45},{"n":45,"i":2,"d":0.31,"r":47.25},{"n":45,"i":3,"d":0.27,"r":47.25},
{"n":46,"i":0,"d":0,"r":49},{"n":46,"i":1,"d":0.15,"r":49},{"n":46,"i":2,"d":0.15,"r":50},{"n":46,"i":3,"d":0,"r":50},
{"n":47,"i":0,"d":0.31,"r":46.1},{"n":47,"i":1,"d":0.43,"r":46.1},{"n":47,"i":2,"d":0.43,"r":49.5},{"n":47,"i":3,"d":0.15,"r":49.5},
{"n":48,"i":0,"d":0.675,"r":35.7},{"n":48,"i":1,"d":0.8,"r":35.7},{"n":48,"i":2,"d":0.8,"r":47.8},{"n":48,"i":3,"d":0.43,"r":47.8},
{"n":49,"i":0,"d":0.75,"r":12.45},{"n":49,"i":1,"d":1,"r":12.45},{"n":49,"i":2,"d":1,"r":41.75},{"n":49,"i":3,"d":0.8,"r":41.75}]
},
"hconcat":[
{"width":1889,"height":2230,
"encoding":{
"x":{"field":"x","type":"quantitative","scale":{"domain":[-8.908,9.186],"nice":false,"zero":false},"axis":{"values":[-8,-4,0,4],"offset":-87,"grid":false,"domain":false,"tickSize":10,"tickColor":"#999999","tickWidth":3,"labelFontSize":20,"labelColor":"#666666","labelPadding":2,"title":"Dim1 (35.6%)","titleFontSize":24,"titleFontWeight":"normal","titleColor":"#555555","titlePadding":6,"titleX":891}},
"y":{"field":"y","type":"quantitative","scale":{"domain":[-7.904,6.633],"nice":false,"zero":false},"axis":{"values":[-4,0,4],"offset":-70,"grid":false,"domain":false,"tickSize":6,"tickColor":"#999999","tickWidth":3,"labelFontSize":20,"labelColor":"#666666","labelPadding":2,"title":"Dim2 (17.4%)","titleFontSize":24,"titleFontWeight":"normal","titleColor":"#555555","titlePadding":6,"titleY":1100}}},
"layer":[
{"data":{"name":"gridV"},"mark":{"type":"rule","color":"#e4e4e4","strokeWidth":3},"encoding":{"y2":{"field":"y2"}}},
{"data":{"name":"gridH"},"mark":{"type":"rule","color":"#e4e4e4","strokeWidth":3},"encoding":{"x2":{"field":"x2"}}},
{"data":{"name":"ellipseGood"},"mark":{"type":"line","interpolate":"cardinal-closed","stroke":"#6f6ff2","strokeWidth":5,"fill":"#0000ff","fillOpacity":0.2},"encoding":{"order":{"field":"i"}}},
{"data":{"name":"ellipsePoor"},"mark":{"type":"line","interpolate":"cardinal-closed","stroke":"#ff7070","strokeWidth":5,"fill":"#ff0000","fillOpacity":0.2},"encoding":{"order":{"field":"i"}}},
{"data":{"values":[{"x":0,"y":6.18,"y2":-7.44}]},"mark":{"type":"rule","color":"#555555","strokeWidth":3,"strokeDash":[10,7]},"encoding":{"y2":{"field":"y2"}}},
{"data":{"values":[{"y":0,"x":-8.12,"x2":7.3}]},"mark":{"type":"rule","color":"#555555","strokeWidth":3,"strokeDash":[10,7]},"encoding":{"x2":{"field":"x2"}}},
{"data":{"name":"samples"},"mark":{"type":"point","filled":true,"opacity":1,"size":1200,"strokeWidth":4},"encoding":{"shape":{"field":"group","scale":{"domain":["Good","Poor"],"range":["circle","triangle-up"]},"legend":null},"color":{"field":"group","scale":{"domain":["Good","Poor"],"range":["#1565c0","#ff0000"]},"legend":null},"stroke":{"field":"group","scale":{"domain":["Good","Poor"],"range":["#0b3f80","#ff0000"]},"legend":null}}},
{"data":{"name":"centroids"},"mark":{"type":"point","filled":true,"opacity":1,"size":150},"encoding":{"shape":{"field":"group","scale":{"domain":["Good","Poor"],"range":["circle","triangle-up"]},"legend":null},"color":{"field":"group","scale":{"domain":["Good","Poor"],"range":["#1a1ae6","#ff0000"]},"legend":null}}},
{"data":{"name":"numbers"},"mark":{"type":"text","font":"Liberation Serif","fontWeight":"bold","fontSize":95,"baseline":"middle"},"encoding":{"text":{"field":"t"},"color":{"field":"group","scale":{"domain":["Good","Poor"],"range":["#0a68c4","#ff0000"]},"legend":null}}},
{"data":{"name":"keys"},"mark":{"type":"text","font":"Liberation Serif","fontWeight":"bold","fontSize":90,"align":"left","baseline":"alphabetic"},"encoding":{"text":{"field":"t"},"color":{"field":"group","scale":{"domain":["Good","Poor"],"range":["#0070c0","#ff0000"]},"legend":null}}},
{"data":{"values":[{"t":"A","x":-8.19,"y":5.753}]},"mark":{"type":"text","font":"Liberation Serif","fontWeight":"bold","fontSize":118,"align":"left","baseline":"alphabetic","color":"#000000"},"encoding":{"text":{"field":"t"}}},
{"data":{"values":[{"t":"PCA - Grouped Samples","x":-8.22,"y":6.42}]},"mark":{"type":"text","fontSize":28.5,"align":"left","baseline":"middle","color":"#555555"},"encoding":{"text":{"field":"t"}}}
]},
{"width":1883,"height":2228,
"resolve":{"scale":{"x":"independent","y":"independent"},"axis":{"x":"independent","y":"independent"}},
"layer":[
{"data":{"name":"cells"},"transform":[{"lookup":"r","from":{"data":{"name":"miRs"},"key":"r","fields":["miR"]}},{"lookup":"c","from":{"data":{"name":"sampleNames"},"key":"c","fields":["sample"]}}],"mark":{"type":"rect"},"encoding":{
"x":{"field":"sample","type":"nominal","sort":{"field":"c","op":"min"},"scale":{"type":"band","range":[110,1747],"paddingInner":0,"paddingOuter":0},"axis":{"orient":"bottom","offset":-252,"title":null,"domain":false,"ticks":false,"labelAngle":270,"labelFontSize":18,"labelColor":"#777777","labelPadding":4,"labelOverlap":false}},
"y":{"field":"miR","type":"nominal","sort":{"field":"r","op":"min"},"scale":{"type":"band","range":[212,1976],"paddingInner":0,"paddingOuter":0},"axis":{"orient":"left","offset":-110,"title":null,"domain":false,"ticks":false,"labelFontSize":12,"labelColor":"#666666","labelPadding":3,"labelOverlap":false}},
"color":{"field":"v","type":"quantitative","scale":{"domain":[-1,0,1],"range":["#ff0000","#000000","#00ff00"],"interpolate":"rgb"},"legend":{"orient":"none","legendX":1858,"legendY":1033,"gradientLength":169,"gradientThickness":10,"title":null,"labelOpacity":0,"tickCount":2}}}},
{"data":{"name":"topTree"},"mark":{"type":"line","color":"#c8c8c8","strokeWidth":2.5},"encoding":{
"x":{"field":"p","type":"quantitative","scale":{"domain":[0.5,10.5],"range":[110,1747],"nice":false,"zero":false},"axis":null},
"y":{"field":"h","type":"quantitative","scale":{"domain":[0,1],"range":[212,66],"nice":false,"zero":false},"axis":null},
"detail":{"field":"n"},"order":{"field":"i"}}},
{"data":{"name":"sideTree"},"mark":{"type":"line","color":"#c8c8c8","strokeWidth":2.5},"encoding":{
"x":{"field":"d","type":"quantitative","scale":{"domain":[0,1],"range":[1747,1851],"nice":false,"zero":false},"axis":null},
"y":{"field":"r","type":"quantitative","scale":{"domain":[0.5,50.5],"range":[212,1976],"nice":false,"zero":false},"axis":null},
"detail":{"field":"n"},"order":{"field":"i"}}},
{"data":{"values":[{"t":"B","p":0.011,"h":0.52}]},"mark":{"type":"text","font":"Liberation Serif","fontWeight":"bold","fontSize":115,"align":"left","baseline":"alphabetic","color":"#000000"},"encoding":{
"x":{"field":"p","type":"quantitative","scale":{"domain":[0.5,10.5],"range":[110,1747],"nice":false,"zero":false},"axis":null},
"y":{"field":"h","type":"quantitative","scale":{"domain":[0,1],"range":[212,66],"nice":false,"zero":false},"axis":null},
"text":{"field":"t"}}}
]}
]}
